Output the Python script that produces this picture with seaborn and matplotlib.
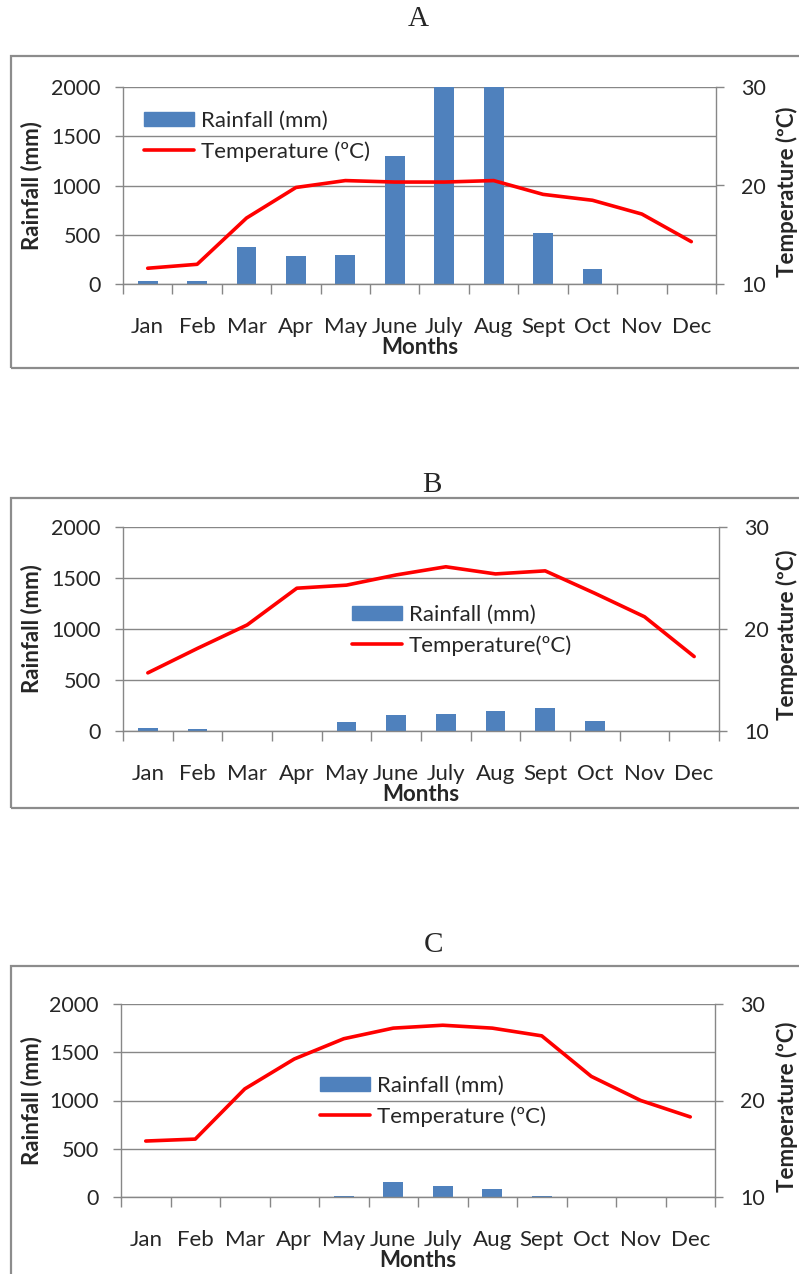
import numpy as np
import matplotlib.pyplot as plt
import seaborn as sns
from matplotlib.patches import Rectangle, Patch
from matplotlib.lines import Line2D

# -- datos
months = ['Jan', 'Feb', 'Mar', 'Apr', 'May', 'June', 'July', 'Aug', 'Sept', 'Oct', 'Nov', 'Dec']

rain_a = [27, 30, 375, 282, 298, 1296, 2000, 2000, 515, 155, 0, 0]
temp_a = [11.6, 12.0, 16.7, 19.8, 20.5, 20.35, 20.35, 20.5, 19.1, 18.5, 17.1, 14.3]

rain_b = [25, 15, 0, 0, 92, 154, 167, 194, 230, 95, 0, 0]
temp_b = [15.7, 18.1, 20.4, 24.0, 24.3, 25.3, 26.1, 25.4, 25.7, 23.5, 21.2, 17.3]

rain_c = [0, 0, 0, 0, 15, 152, 110, 83, 15, 0, 0, 0]
temp_c = [15.8, 16.0, 21.2, 24.3, 26.4, 27.5, 27.8, 27.5, 26.7, 22.5, 20.0, 18.3]

W, H = 799, 1274
BLUE = '#4F81BD'
GRAY = '#878787'

sns.set_theme(style='white')
plt.rcParams['font.family'] = ['Lato', 'DejaVu Sans']


def fx(x):
    return x / W


def fy(y):
    return 1 - y / H


# -- dibuja un panel con barras de lluvia y linea de temperatura
def panel(fig, box, frame, rain, temp, leg_xy, temp_txt, title, title_xy):
    l, t, r, b = box
    ax = fig.add_axes([fx(l), fy(b), (r - l) / W, (b - t) / H])
    sns.barplot(x=months, y=rain, ax=ax, color=BLUE, saturation=1, width=0.4,
                edgecolor='none', zorder=2)
    ax.set_xlim(-0.5, 11.5)
    ax.set_ylim(0, 2000)
    ax.set_yticks(range(0, 2001, 500))
    ax.yaxis.grid(True, color=GRAY, lw=1)
    ax.set_axisbelow(True)

    ax.set_xticks(np.arange(-0.5, 12, 1))
    ax.set_xticklabels([])
    ax.set_xticks(np.arange(12), minor=True)
    ax.set_xticklabels(months, minor=True)
    ax.tick_params(axis='x', which='major', length=7, width=1, color=GRAY, direction='out', bottom=True)
    ax.tick_params(axis='x', which='minor', length=0, pad=24, labelsize=16)
    ax.tick_params(axis='y', length=6, width=1, color=GRAY, direction='out', left=True, pad=10, labelsize=15.5)

    for s in ['top', 'right']:
        ax.spines[s].set_visible(False)
    for s in ['left', 'bottom']:
        ax.spines[s].set_color(GRAY)
        ax.spines[s].set_linewidth(1)

    ax2 = ax.twinx()
    sns.lineplot(x=np.arange(len(months)), y=temp, ax=ax2, color='#FF0000', lw=2.6)
    ax2.set_ylim(10, 30)
    ax2.set_yticks([10, 20, 30])
    ax2.tick_params(axis='y', length=6, width=1, color=GRAY, direction='out', right=True, pad=12, labelsize=15.5)
    for s in ['top', 'left', 'bottom']:
        ax2.spines[s].set_visible(False)
    ax2.spines['right'].set_color(GRAY)
    ax2.spines['right'].set_linewidth(1)
    ax2.grid(False)

    ax.set_xlabel('Months', fontsize=16, fontweight='bold', labelpad=0)
    ax.set_ylabel('Rainfall (mm)', fontsize=16, fontweight='bold')
    ax.yaxis.set_label_coords((42 - l) / (r - l), 0.5)
    ax2.set_ylabel('Temperature (ºC)', fontsize=16, fontweight='bold')
    ax2.yaxis.set_label_coords((776 - l) / (r - l), 0.47)

    handles = [Patch(color=BLUE), Line2D([], [], color='#FF0000', lw=2.6)]
    ax2.legend(handles, ['Rainfall (mm)', temp_txt], loc='upper left',
               bbox_to_anchor=(fx(leg_xy[0]), fy(leg_xy[1])), bbox_transform=fig.transFigure,
               frameon=False, fontsize=16, handlelength=2.25, handletextpad=0.3,
               handleheight=0.6, labelspacing=0.45, borderpad=0, borderaxespad=0)

    fl, ft, fr, fb = frame
    fig.add_artist(Rectangle((fx(fl), fy(fb)), (fr - fl) / W, (fb - ft) / H,
                             transform=fig.transFigure, fill=False, ec='#8c8c8c', lw=1.6))
    fig.text(fx(title_xy[0]), fy(title_xy[1]), title, ha='center', va='center',
             family='Liberation Serif', fontsize=21)
    return ax, ax2


fig = plt.figure(figsize=(W / 100, H / 100), dpi=100)

panel(fig, (123, 87, 716, 284), (11, 56, 830, 368), rain_a, temp_a, (144, 111),
      'Temperature (ºC)', 'A', (418, 19))
panel(fig, (123, 527, 719, 731), (11, 498, 830, 808), rain_b, temp_b, (352, 605),
      'Temperature(ºC)', 'B', (432, 485))
panel(fig, (121, 1004, 715, 1197), (11, 966, 830, 1300), rain_c, temp_c, (320, 1076),
      'Temperature (ºC)', 'C', (433, 945))

fig.savefig('out.png', dpi=100)
